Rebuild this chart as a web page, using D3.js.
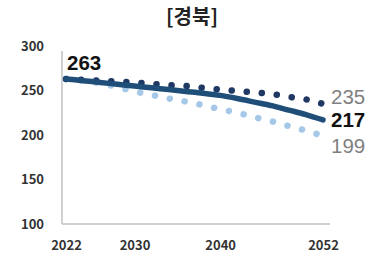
<!DOCTYPE html>
<html><head><meta charset="utf-8">
<script src="https://cdn.jsdelivr.net/npm/d3@7"></script>
<style>body{margin:0;background:#fff}svg{display:block}</style>
</head><body>
<script>
const title = "[경북]";
const years = [2022, 2024, 2026, 2028, 2030, 2032, 2034, 2036, 2038, 2040, 2042, 2044, 2046, 2048, 2050, 2052];
const medianSeries = [263, 261, 259, 257, 255, 253, 251, 249, 247, 244.5, 241, 237, 233, 228, 223, 217];
const highSeries   = [263, 262, 261, 260, 259, 257.5, 256, 255, 253, 251, 249.5, 248, 246, 243, 240, 235];
const lowSeries    = [263, 261, 258, 254, 249, 245, 241, 237.5, 233.5, 229, 225, 220, 215.5, 210, 205, 199];
const xTicks = [2022, 2030, 2040, 2052];
const yTicks = [100, 150, 200, 250, 300];

const W = 382, H = 270;
const svg = d3.select("body").append("svg").attr("width", W).attr("height", H);
const font = "'Noto Sans CJK KR', 'Noto Sans', sans-serif";
const numFont = "'Liberation Sans', Arial, sans-serif";

const x = d3.scaleLinear().domain([2022, 2052]).range([66, 323]);
const y = d3.scaleLinear().domain([100, 300]).range([224, 46]);

svg.append("text").attr("x", 192).attr("y", 24).attr("text-anchor", "middle")
  .attr("font-family", font).attr("font-weight", 700).attr("font-size", 20).attr("fill", "#222")
  .text(title);

// axes lines
svg.append("line").attr("x1", 62).attr("x2", 62).attr("y1", y(300) + 5).attr("y2", y(100))
  .attr("stroke", "#c0c0c0").attr("stroke-width", 1.5);
svg.append("line").attr("x1", 62).attr("x2", 330).attr("y1", y(100)).attr("y2", y(100))
  .attr("stroke", "#c0c0c0").attr("stroke-width", 1.5);

const yAxis = d3.axisLeft(y).tickValues(yTicks).tickSize(0).tickPadding(0);
const gy = svg.append("g").attr("transform", "translate(44,0)").call(yAxis);
gy.select(".domain").remove();
gy.selectAll("text").attr("font-family", font).attr("font-weight", 700).attr("font-size", 13).attr("fill", "#333");

const xAxis = d3.axisBottom(x).tickValues(xTicks).tickFormat(d3.format("d")).tickSize(0).tickPadding(0);
const gx = svg.append("g").attr("transform", "translate(0,241)").call(xAxis);
gx.select(".domain").remove();
gx.selectAll("text").attr("font-family", font).attr("font-weight", 700).attr("font-size", 13).attr("fill", "#333");

const line = d3.line().x((d, i) => x(years[i])).y(d => y(d)).curve(d3.curveMonotoneX);

svg.append("path").datum(lowSeries).attr("d", line).attr("fill", "none")
  .attr("stroke", "#a6c8e8").attr("stroke-width", 6.5).attr("stroke-linecap", "round")
  .attr("stroke-dasharray", "0.1 15");
svg.append("path").datum(highSeries).attr("d", line).attr("fill", "none")
  .attr("stroke", "#1f3864").attr("stroke-width", 6.5).attr("stroke-linecap", "round")
  .attr("stroke-dasharray", "0.1 15");
svg.append("path").datum(medianSeries).attr("d", line).attr("fill", "none")
  .attr("stroke", "#1f4e79").attr("stroke-width", 5.5).attr("stroke-linecap", "round");

const last = years.length - 1;
const lab = 20.5;
svg.append("text").attr("x", 67).attr("y", y(medianSeries[0]) - 9)
  .attr("font-family", numFont).attr("font-weight", 700).attr("font-size", lab).attr("fill", "#111")
  .text(medianSeries[0]);
svg.append("text").attr("x", 331).attr("y", y(highSeries[last]) + 0.5)
  .attr("font-family", numFont).attr("font-weight", 400).attr("font-size", lab).attr("fill", "#7f7f7f")
  .text(highSeries[last]);
svg.append("text").attr("x", 331).attr("y", y(medianSeries[last]) + 7.5)
  .attr("font-family", numFont).attr("font-weight", 700).attr("font-size", lab).attr("fill", "#111")
  .text(medianSeries[last]);
svg.append("text").attr("x", 331).attr("y", y(lowSeries[last]) + 17.5)
  .attr("font-family", numFont).attr("font-weight", 400).attr("font-size", lab).attr("fill", "#7f7f7f")
  .text(lowSeries[last]);
</script>
</body></html>
